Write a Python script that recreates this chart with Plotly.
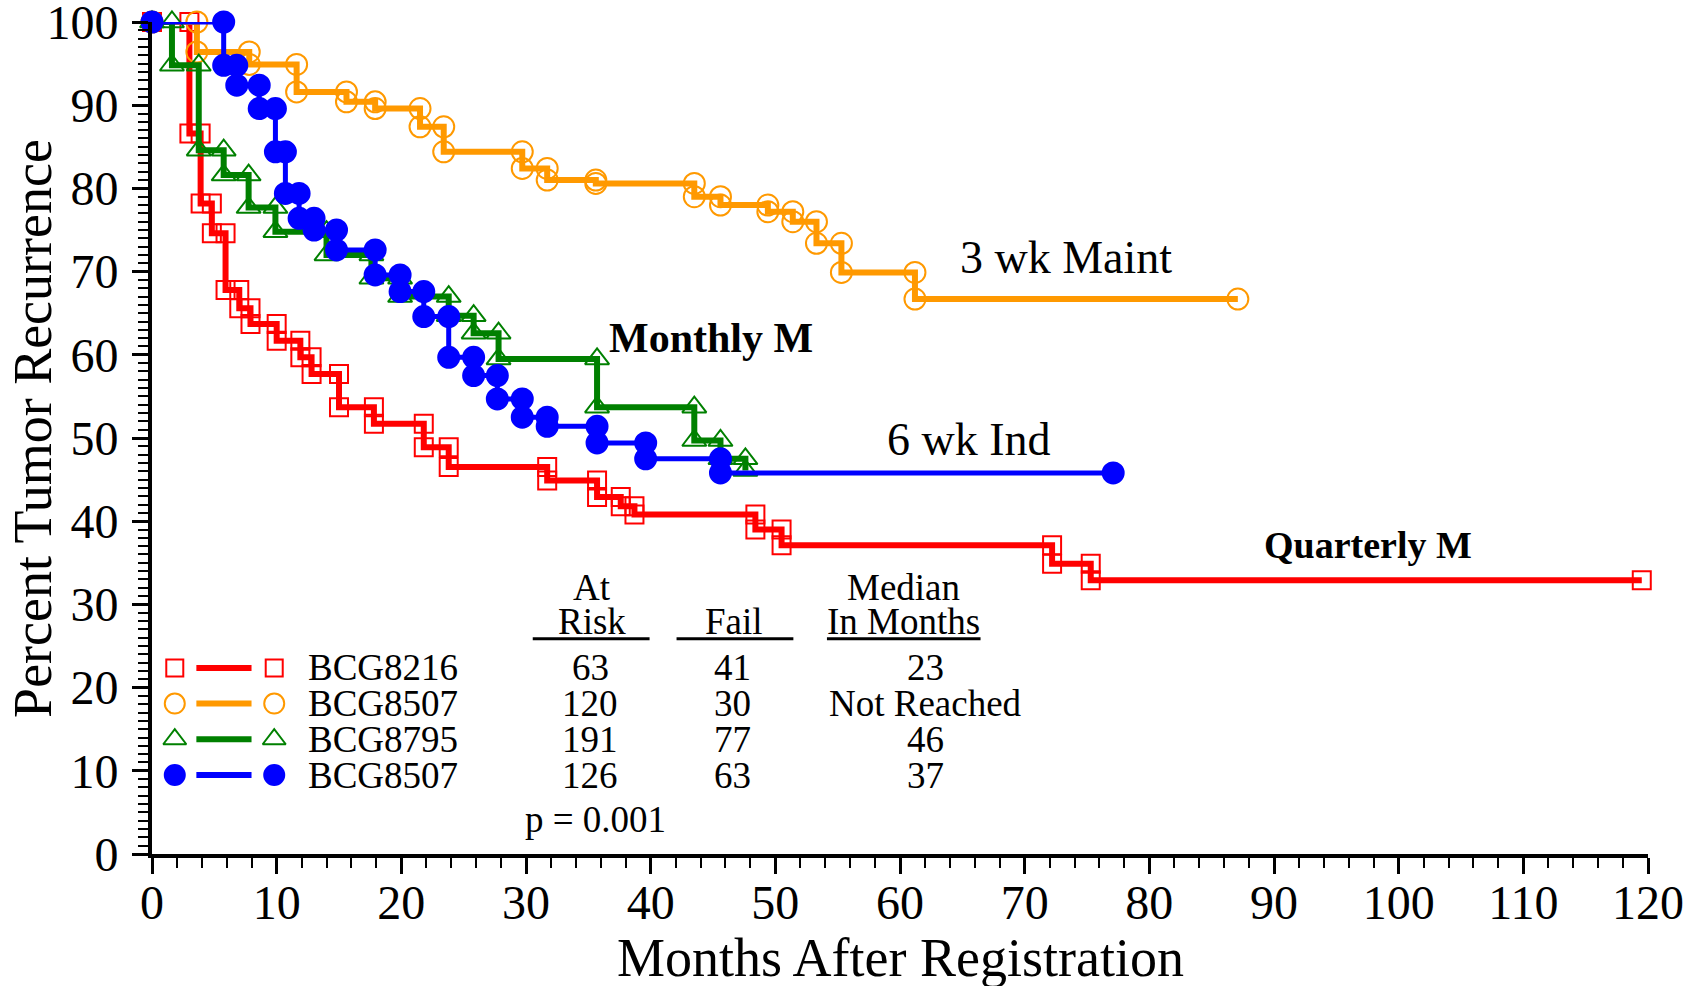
import plotly.graph_objects as go

# ---- Kaplan-Meier data: month of each drop and the percent after it ----
red_times = [3.0, 3.9, 4.8, 5.9, 7.0, 7.9, 10.0, 11.9, 12.8, 15.0, 17.8, 21.8, 23.8,
             31.7, 35.7, 37.6, 38.7, 48.4, 50.5, 72.2, 75.3]
red_vals = [86.6, 78.2, 74.6, 67.8, 65.6, 63.7, 61.7, 59.7, 57.7, 53.7, 51.7, 48.9, 46.5,
            44.9, 42.9, 41.8, 40.8, 39.0, 37.1, 34.9, 32.9]
red_end = 119.5

orange_times = [3.6, 7.8, 11.6, 15.6, 17.9, 21.5, 23.4, 29.7, 31.7, 35.6, 43.5, 45.6,
                49.4, 51.4, 53.3, 55.3, 61.2]
orange_vals = [96.4, 94.9, 91.6, 90.4, 89.6, 87.4, 84.4, 82.4, 81.0, 80.6, 79.0, 78.0,
               77.2, 76.0, 73.4, 69.9, 66.7]
orange_end = 87.1

green_times = [1.6, 3.75, 5.75, 7.75, 9.9, 14.0, 17.6, 19.9, 23.8, 25.8, 27.8, 35.7,
               43.5, 45.6, 47.6]
green_vals = [94.8, 84.6, 81.6, 77.7, 74.8, 72.0, 69.2, 67.0, 64.7, 62.6, 59.5, 53.7,
              49.7, 47.5, 46.1]
green_end = None

blue_times = [5.75, 6.8, 8.6, 9.9, 10.7, 11.8, 13.0, 14.8, 17.9, 19.9, 21.8, 23.8, 25.8,
              27.7, 29.7, 31.7, 35.7, 39.6, 45.6]
blue_vals = [94.8, 92.4, 89.6, 84.4, 79.4, 76.4, 75.0, 72.6, 69.6, 67.6, 64.6, 59.7, 57.5,
             54.7, 52.5, 51.4, 49.4, 47.5, 45.8]
blue_end = 77.1

# ---- summary table ----
arm_names = ["BCG8216", "BCG8507", "BCG8795", "BCG8507"]
at_risk = [63, 120, 191, 126]
failures = [41, 30, 77, 63]
medians = ["23", "Not Reached", "46", "37"]
p_value = "p = 0.001"

curve_labels = ["Quarterly M", "3 wk Maint", "Monthly M", "6 wk Ind"]

x_ticks = list(range(0, 121, 10))
y_ticks = list(range(0, 101, 10))

FONT = "Liberation Serif, Times New Roman, serif"

styles = [
    dict(color="#FF0000", symbol="square-open", size=18, width=6),
    dict(color="#FF9900", symbol="circle-open", size=21, width=6),
    dict(color="#008000", symbol="triangle-up-open", size=21, width=6),
    dict(color="#0000FF", symbol="circle", size=21, width=5),
]


def km_path(times, vals, end):
    xs, ys = [0.0], [100.0]
    prev = 100.0
    for t, v in zip(times, vals):
        xs += [t, t]
        ys += [prev, v]
        prev = v
    if end is not None:
        xs.append(end)
        ys.append(prev)
    return xs, ys


series = [
    (red_times, red_vals, red_end),
    (orange_times, orange_vals, orange_end),
    (green_times, green_vals, green_end),
    (blue_times, blue_vals, blue_end),
]

fig = go.Figure()

for (t, v, e), st, name in zip(series, styles, arm_names):
    xs, ys = km_path(t, v, e)
    fig.add_trace(go.Scatter(
        x=xs, y=ys, mode="lines+markers", name=name, showlegend=False,
        cliponaxis=False,
        line=dict(color=st["color"], width=st["width"]),
        marker=dict(symbol=st["symbol"], size=st["size"], color=st["color"],
                    line=dict(color=st["color"], width=2)),
    ))

# ---- key and table, placed in figure pixels via an overlay axis pair ----
W, H = 1697, 986
L, R, T, B = 151.5, 1648.5, 21.6, 854.0


def px_x(x):
    return (x - L) / (R - L)


def px_y(y):
    return (B - y) / (B - T)


row_y = [667.8, 703.5, 739.2, 775.0]
for yy, st in zip(row_y, styles):
    fig.add_trace(go.Scatter(
        x=[195.9, 251.1], y=[yy, yy], mode="lines", xaxis="x2", yaxis="y2",
        showlegend=False, cliponaxis=False,
        line=dict(color=st["color"], width=6)))
    fig.add_trace(go.Scatter(
        x=[174.3, 273.8], y=[yy, yy], mode="markers", xaxis="x2", yaxis="y2",
        showlegend=False, cliponaxis=False,
        marker=dict(symbol=st["symbol"], size=st["size"] - 1, color=st["color"],
                    line=dict(color=st["color"], width=2))))

annotations = []


def txt(x, y, s, size=37, xanchor="center", bold=False, angle=0):
    annotations.append(dict(
        x=px_x(x), y=px_y(y), xref="paper", yref="paper",
        text=f"<b>{s}</b>" if bold else s, textangle=angle,
        showarrow=False, xanchor=xanchor, yanchor="middle",
        font=dict(family=FONT, size=size, color="black")))


for yy, name, n, f, m in zip(row_y, arm_names, at_risk, failures, medians):
    txt(305.2, yy, name, xanchor="left")
    txt(589.9, yy, str(n))
    txt(732.7, yy, str(f))
    txt(926.0, yy, m)

txt(592.0, 587.7, "At")
txt(592.0, 621.2, "Risk")
txt(733.8, 621.2, "Fail")
txt(903.7, 587.7, "Median")
txt(903.7, 621.2, "In Months")
txt(595.3, 819.3, p_value)

# curve labels
txt(1066.0, 257.6, curve_labels[1], size=46)
txt(968.7, 439.4, curve_labels[3], size=46)
txt(711.0, 337.7, curve_labels[2], size=42, bold=True)
txt(1368.0, 544.4, curve_labels[0], size=38, bold=True)

# axis titles
txt((L + R) / 2, 958.0, "Months After Registration", size=54)
txt(32.5, 428.6, "Percent Tumor Recurrence", size=54, angle=-90)

shapes = []
for x0, x1 in [(532.5, 649.4), (676.4, 793.3), (826.9, 980.6)]:
    shapes.append(dict(type="line", xref="paper", yref="paper",
                       x0=px_x(x0), x1=px_x(x1), y0=px_y(638.6), y1=px_y(638.6),
                       line=dict(color="black", width=3)))

axis_common = dict(
    showgrid=False, zeroline=False, showline=True, linecolor="black", linewidth=4,
    ticks="outside", ticklen=16, tickwidth=3, tickcolor="black",
    ticklabeloverflow="allow", automargin=False,
    tickfont=dict(family=FONT, size=48, color="black"),
)

fig.update_layout(
    width=W, height=H,
    margin=dict(l=L, r=W - R, t=T, b=H - B, pad=0, autoexpand=False),
    paper_bgcolor="white", plot_bgcolor="white",
    xaxis=dict(range=[0, 120], tickvals=x_ticks, ticklabelstandoff=-13, **axis_common,
               minor=dict(dtick=2, tick0=0, ticks="outside", ticklen=10, tickwidth=2,
                          tickcolor="black", showgrid=False)),
    yaxis=dict(range=[0, 100], tickvals=y_ticks, ticklabelstandoff=4, **axis_common,
               minor=dict(dtick=1, tick0=0, ticks="outside", ticklen=10, tickwidth=2,
                          tickcolor="black", showgrid=False)),
    xaxis2=dict(overlaying="x", range=[L, R], visible=False, fixedrange=True),
    yaxis2=dict(overlaying="y", range=[B, T], visible=False, fixedrange=True),
    annotations=annotations,
    shapes=shapes,
    showlegend=False,
)

fig.write_html("out.html")
